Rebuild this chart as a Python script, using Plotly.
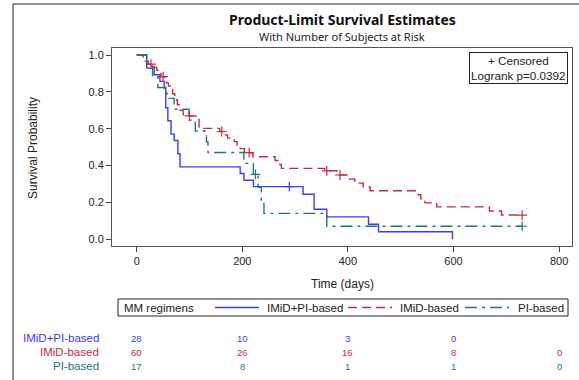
import plotly.graph_objects as go

# ---------------- data ----------------
groups = ["IMiD+PI-based", "IMiD-based", "PI-based"]

blue_t = [0, 19, 33, 44, 52, 55, 59, 65, 71, 78, 82, 196, 203, 221, 315, 336, 360, 439, 458, 598]
blue_s = [1.0, 0.929, 0.893, 0.857, 0.821, 0.714, 0.643, 0.571, 0.536, 0.464, 0.393,
          0.357, 0.321, 0.286, 0.245, 0.163, 0.122, 0.082, 0.041, 0.0]
blue_c = [289]

red_t = [0, 12, 16, 22, 33, 38, 42, 46, 53, 56, 60, 63, 68, 72, 77, 82, 88, 114, 118,
         157, 168, 172, 185, 190, 196, 204, 220, 262, 268, 274, 356, 379, 403, 413, 429,
         442, 533, 538, 546, 568, 668, 691]
red_s = [1.0, 0.983, 0.967, 0.950, 0.933, 0.917, 0.900, 0.883, 0.866, 0.849, 0.832, 0.815,
         0.790, 0.757, 0.730, 0.700, 0.670, 0.650, 0.602, 0.585, 0.567, 0.549, 0.530, 0.511,
         0.492, 0.470, 0.448, 0.428, 0.406, 0.385, 0.372, 0.349, 0.327, 0.305, 0.284, 0.264,
         0.242, 0.220, 0.198, 0.176, 0.154, 0.132]
red_c = [27, 50, 100, 161, 213, 360, 385, 730]

green_t = [0, 19, 30, 40, 57, 71, 99, 111, 132, 135, 203, 221, 230, 236, 241, 360]
green_s = [1.0, 0.941, 0.882, 0.824, 0.765, 0.706, 0.647, 0.588, 0.529, 0.471, 0.412,
           0.353, 0.282, 0.212, 0.141, 0.071]
green_c = [225, 730]

risk_times = [0, 200, 400, 600, 800]
risk_blue = [28, 10, 3, 0, None]
risk_red = [60, 26, 16, 8, 0]
risk_green = [17, 8, 1, 1, 0]

x_ticks = [0, 200, 400, 600, 800]
y_ticks = [0.0, 0.2, 0.4, 0.6, 0.8, 1.0]

colors = ["#3c3cf2", "#c42c40", "#1c7a70"]
dashes = ["solid", "9px,5px", "12px,5px,3px,5px"]

# ---------------- figure ----------------
W, H = 579, 380
L, R, T, B = 112, 572, 48, 246


def px(xp):
    return (xp - L) / (R - L)


def py(yp):
    return (B - yp) / (B - T)


def step_at(ts, ss, t):
    v = ss[0]
    for ti, si in zip(ts, ss):
        if ti <= t:
            v = si
    return v


fig = go.Figure()
series = [(blue_t, blue_s, blue_c), (red_t, red_s, red_c), (green_t, green_s, green_c)]
for i, (ts, ss, cs) in enumerate(series):
    xs = list(ts)
    ys = list(ss)
    if cs and max(cs) > ts[-1]:
        xs.append(max(cs))
        ys.append(ss[-1])
    fig.add_trace(go.Scatter(
        x=xs, y=ys, mode="lines", line_shape="hv", name=groups[i], showlegend=False,
        line=dict(color=colors[i], width=1.4, dash=dashes[i]),
    ))
for i, (ts, ss, cs) in enumerate(series):
    fig.add_trace(go.Scatter(
        x=cs, y=[step_at(ts, ss, c) for c in cs], mode="markers", showlegend=False,
        marker=dict(symbol="cross-thin", size=7, line=dict(color=colors[i], width=1.2)),
    ))

font_main = "Liberation Sans, Arial, sans-serif"

fig.update_layout(
    width=W, height=H,
    margin=dict(l=L, r=W - R, t=T, b=H - B, pad=0),
    paper_bgcolor="white", plot_bgcolor="white",
    font=dict(family=font_main, size=11, color="#222"),
    showlegend=False,
)

fig.update_xaxes(
    range=[-46.8, 824.4], tickvals=x_ticks, ticktext=[str(v) for v in x_ticks],
    ticks="outside", ticklen=5, tickcolor="#444", showgrid=False, zeroline=False,
    showline=True, linecolor="#555", linewidth=1, mirror=True,
    tickfont=dict(size=11, color="#222"),
)
fig.update_yaxes(
    range=[-0.036, 1.038], tickvals=y_ticks, ticktext=[f"{v:.1f}" for v in y_ticks],
    ticks="outside", ticklen=5, tickcolor="#444", showgrid=False, zeroline=False,
    showline=True, linecolor="#555", linewidth=1, mirror=True,
    tickfont=dict(size=11, color="#222"),
)

ann = []
ann.append(dict(text="<b>Product-Limit Survival Estimates</b>", x=px(342), y=py(20),
                xref="paper", yref="paper", showarrow=False, xanchor="center", yanchor="middle",
                font=dict(family="Noto Sans, sans-serif", size=14, color="#111")))
ann.append(dict(text="With Number of Subjects at Risk", x=px(342), y=py(36),
                xref="paper", yref="paper", showarrow=False, xanchor="center", yanchor="middle",
                font=dict(family="Noto Sans, sans-serif", size=11, color="#222")))
ann.append(dict(text="Survival Probability", x=px(33), y=py(148), textangle=-90,
                xref="paper", yref="paper", showarrow=False, xanchor="center", yanchor="middle",
                font=dict(size=12, color="#222")))
ann.append(dict(text="Time (days)", x=px(342), y=py(284), xanchor="center", yanchor="middle",
                xref="paper", yref="paper", showarrow=False, font=dict(size=12, color="#222")))
ann.append(dict(text="+ Censored<br>Logrank p=0.0392", x=px(568), y=py(52),
                xref="paper", yref="paper", xanchor="right", yanchor="top",
                showarrow=False, align="center", bordercolor="#222", borderwidth=1,
                borderpad=1, bgcolor="white", font=dict(size=11.7, color="#222")))

# legend (drawn manually)
leg_top, leg_bot, leg_l, leg_r = 299, 316, 118, 568
leg_y = (leg_top + leg_bot) / 2
fig.add_shape(type="rect", xref="paper", yref="paper", x0=px(leg_l), x1=px(leg_r),
              y0=py(leg_bot), y1=py(leg_top), line=dict(color="#222", width=1),
              fillcolor="white", layer="below")
ann.append(dict(text="MM regimens", x=px(122), y=py(leg_y), xref="paper", yref="paper",
                xanchor="left", yanchor="middle", showarrow=False,
                font=dict(size=11.5, color="#222")))
sample_x = [(215, 259), (348, 392), (465, 509)]
text_x = [265, 398, 516]
for i in range(3):
    fig.add_shape(type="line", xref="paper", yref="paper",
                  x0=px(sample_x[i][0]), x1=px(sample_x[i][1]), y0=py(leg_y), y1=py(leg_y),
                  line=dict(color=colors[i], width=1.4, dash=dashes[i]))
    ann.append(dict(text=groups[i], x=px(text_x[i]), y=py(leg_y), xref="paper", yref="paper",
                    xanchor="left", yanchor="middle", showarrow=False,
                    font=dict(size=11.5, color="#222")))

rows = [risk_blue, risk_red, risk_green]
row_y = [338, 352, 366]
for i, vals in enumerate(rows):
    ann.append(dict(text=groups[i], x=px(101), y=py(row_y[i]), xref="paper", yref="paper",
                    xanchor="right", yanchor="middle", showarrow=False,
                    font=dict(size=11.5, color=colors[i])))
    for t, v in zip(risk_times, vals):
        if v is None:
            continue
        ann.append(dict(text=str(v), x=t, y=py(row_y[i]), xref="x", yref="paper",
                        xanchor="center", yanchor="middle",
                        showarrow=False, font=dict(size=9.5, color=colors[i])))
fig.update_layout(annotations=ann)

fig.add_shape(type="line", xref="paper", yref="paper", x0=px(13), y0=py(4), x1=px(580), y1=py(4),
              line=dict(color="#222", width=1))
fig.add_shape(type="line", xref="paper", yref="paper", x0=px(13), y0=py(4), x1=px(13), y1=py(381),
              line=dict(color="#222", width=1))

fig.write_html("out.html")
